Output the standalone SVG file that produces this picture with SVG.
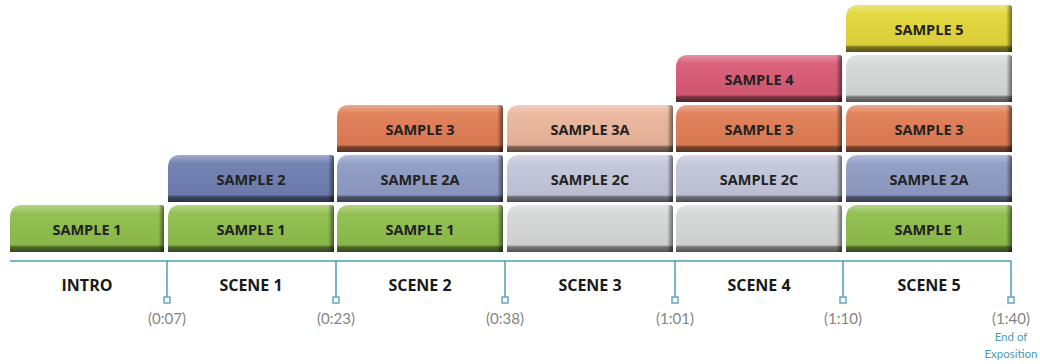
<svg xmlns="http://www.w3.org/2000/svg" xmlns:xlink="http://www.w3.org/1999/xlink" width="1040" height="364" viewBox="0 0 1040 364">
<style>
.green{fill:#8ebe4c}.blue{fill:#6f7eb1}.blue2a{fill:#8f9bc4}.blue2c{fill:#c3c6d9}.orange{fill:#e07d55}.peach{fill:#ebb59c}.pink{fill:#d95a75}.yellow{fill:#e3d73a}.gray{fill:#d6d7d7}
.lbl{font-family:"Open Sans","Liberation Sans",sans-serif;font-weight:700;font-size:14.5px;fill:#222;text-anchor:middle}
.scene{font-family:"Open Sans","Liberation Sans",sans-serif;font-weight:700;font-size:16px;fill:#1a1a1a;text-anchor:middle}
.time{font-family:"Lato","Liberation Sans",sans-serif;font-weight:400;font-size:15px;fill:#858585;text-anchor:middle}
.end{font-family:"Lato","Liberation Sans",sans-serif;font-weight:400;font-size:11.5px;fill:#4d9bb5;text-anchor:middle}
.axis{stroke:#4d9bb5;stroke-width:1.5;fill:none}
.tick{stroke:#4d9bb5;stroke-width:1.3;fill:#fff}
</style>
<defs>
<path id="b166" d="M0,47 V13 Q0,0 13,0 H163 Q166,0 166,3 V47 Z"/>
<path id="b154" d="M0,47 V13 Q0,0 13,0 H151 Q154,0 154,3 V47 Z"/>
<linearGradient id="sv" x1="0" y1="0" x2="0" y2="1">
<stop offset="0" stop-color="#fff" stop-opacity="0.35"/>
<stop offset="0.18" stop-color="#fff" stop-opacity="0.05"/>
<stop offset="0.85" stop-color="#000" stop-opacity="0.04"/>
<stop offset="0.89" stop-color="#000" stop-opacity="0.45"/>
<stop offset="1" stop-color="#000" stop-opacity="0.62"/>
</linearGradient>
<linearGradient id="sh" x1="0" y1="0" x2="1" y2="0">
<stop offset="0.965" stop-color="#000" stop-opacity="0"/>
<stop offset="0.985" stop-color="#000" stop-opacity="0.3"/>
<stop offset="1" stop-color="#000" stop-opacity="0.5"/>
</linearGradient>
</defs>

<g id="intro-s1" transform="translate(10,205)"><use href="#b154" class="green"/><use href="#b154" fill="url(#sv)"/><use href="#b154" fill="url(#sh)"/><text class="lbl" x="77" y="30">SAMPLE 1</text></g>

<g id="scene1-s1" transform="translate(168,205)"><use href="#b166" class="green"/><use href="#b166" fill="url(#sv)"/><use href="#b166" fill="url(#sh)"/><text class="lbl" x="83" y="30">SAMPLE 1</text></g>
<g id="scene1-s2" transform="translate(168,155)"><use href="#b166" class="blue"/><use href="#b166" fill="url(#sv)"/><use href="#b166" fill="url(#sh)"/><text class="lbl" x="83" y="30">SAMPLE 2</text></g>

<g id="scene2-s1" transform="translate(337,205)"><use href="#b166" class="green"/><use href="#b166" fill="url(#sv)"/><use href="#b166" fill="url(#sh)"/><text class="lbl" x="83" y="30">SAMPLE 1</text></g>
<g id="scene2-s2a" transform="translate(337,155)"><use href="#b166" class="blue2a"/><use href="#b166" fill="url(#sv)"/><use href="#b166" fill="url(#sh)"/><text class="lbl" x="83" y="30">SAMPLE 2A</text></g>
<g id="scene2-s3" transform="translate(337,105)"><use href="#b166" class="orange"/><use href="#b166" fill="url(#sv)"/><use href="#b166" fill="url(#sh)"/><text class="lbl" x="83" y="30">SAMPLE 3</text></g>

<g id="scene3-empty" transform="translate(507,205)"><use href="#b166" class="gray"/><use href="#b166" fill="url(#sv)"/><use href="#b166" fill="url(#sh)"/></g>
<g id="scene3-s2c" transform="translate(507,155)"><use href="#b166" class="blue2c"/><use href="#b166" fill="url(#sv)"/><use href="#b166" fill="url(#sh)"/><text class="lbl" x="83" y="30">SAMPLE 2C</text></g>
<g id="scene3-s3a" transform="translate(507,105)"><use href="#b166" class="peach"/><use href="#b166" fill="url(#sv)"/><use href="#b166" fill="url(#sh)"/><text class="lbl" x="83" y="30">SAMPLE 3A</text></g>

<g id="scene4-empty" transform="translate(676,205)"><use href="#b166" class="gray"/><use href="#b166" fill="url(#sv)"/><use href="#b166" fill="url(#sh)"/></g>
<g id="scene4-s2c" transform="translate(676,155)"><use href="#b166" class="blue2c"/><use href="#b166" fill="url(#sv)"/><use href="#b166" fill="url(#sh)"/><text class="lbl" x="83" y="30">SAMPLE 2C</text></g>
<g id="scene4-s3" transform="translate(676,105)"><use href="#b166" class="orange"/><use href="#b166" fill="url(#sv)"/><use href="#b166" fill="url(#sh)"/><text class="lbl" x="83" y="30">SAMPLE 3</text></g>
<g id="scene4-s4" transform="translate(676,55)"><use href="#b166" class="pink"/><use href="#b166" fill="url(#sv)"/><use href="#b166" fill="url(#sh)"/><text class="lbl" x="83" y="30">SAMPLE 4</text></g>

<g id="scene5-s1" transform="translate(846,205)"><use href="#b166" class="green"/><use href="#b166" fill="url(#sv)"/><use href="#b166" fill="url(#sh)"/><text class="lbl" x="83" y="30">SAMPLE 1</text></g>
<g id="scene5-s2a" transform="translate(846,155)"><use href="#b166" class="blue2a"/><use href="#b166" fill="url(#sv)"/><use href="#b166" fill="url(#sh)"/><text class="lbl" x="83" y="30">SAMPLE 2A</text></g>
<g id="scene5-s3" transform="translate(846,105)"><use href="#b166" class="orange"/><use href="#b166" fill="url(#sv)"/><use href="#b166" fill="url(#sh)"/><text class="lbl" x="83" y="30">SAMPLE 3</text></g>
<g id="scene5-empty" transform="translate(846,55)"><use href="#b166" class="gray"/><use href="#b166" fill="url(#sv)"/><use href="#b166" fill="url(#sh)"/></g>
<g id="scene5-s5" transform="translate(846,5)"><use href="#b166" class="yellow"/><use href="#b166" fill="url(#sv)"/><use href="#b166" fill="url(#sh)"/><text class="lbl" x="83" y="30">SAMPLE 5</text></g>

<g id="connectors">
<line class="axis" x1="10" y1="261" x2="1011.5" y2="261"/>
<line class="axis" x1="167" y1="261" x2="167" y2="297"/>
<line class="axis" x1="336" y1="261" x2="336" y2="297"/>
<line class="axis" x1="505" y1="261" x2="505" y2="297"/>
<line class="axis" x1="675" y1="261" x2="675" y2="297"/>
<line class="axis" x1="843" y1="261" x2="843" y2="297"/>
<line class="axis" x1="1011" y1="261" x2="1011" y2="297"/>
<rect class="tick" x="164" y="297" width="6" height="6"/>
<rect class="tick" x="333" y="297" width="6" height="6"/>
<rect class="tick" x="502" y="297" width="6" height="6"/>
<rect class="tick" x="672" y="297" width="6" height="6"/>
<rect class="tick" x="840" y="297" width="6" height="6"/>
<rect class="tick" x="1008" y="297" width="6" height="6"/>
</g>

<g id="scene-labels">
<text class="scene" x="87" y="291">INTRO</text>
<text class="scene" x="251" y="291">SCENE 1</text>
<text class="scene" x="420" y="291">SCENE 2</text>
<text class="scene" x="590" y="291">SCENE 3</text>
<text class="scene" x="759" y="291">SCENE 4</text>
<text class="scene" x="929" y="291">SCENE 5</text>
</g>

<g id="time-labels">
<text class="time" x="167" y="324">(0:07)</text>
<text class="time" x="336" y="324">(0:23)</text>
<text class="time" x="505" y="324">(0:38)</text>
<text class="time" x="675" y="324">(1:01)</text>
<text class="time" x="843" y="324">(1:10)</text>
<text class="time" x="1011" y="324">(1:40)</text>
<text class="end" x="1011" y="341">End of</text>
<text class="end" x="1011" y="358">Exposition</text>
</g>
</svg>
